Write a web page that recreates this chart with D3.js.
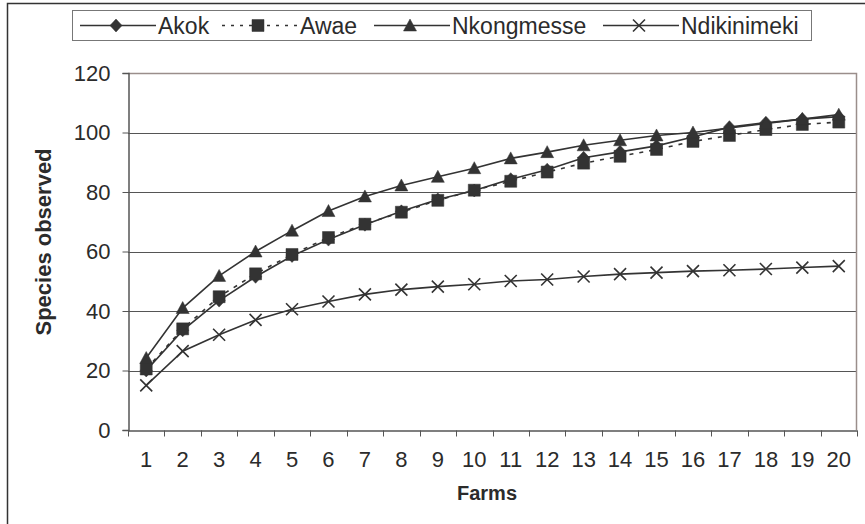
<!DOCTYPE html>
<meta charset="utf-8">
<style>
body{
  margin: 0;
  background: #fff;
  font-family: "Liberation Sans", Arial, sans-serif;
}
svg text{ fill: #2b2b2b; }
</style>
<body>
<div id='chart'></div>
<script src="https://cdn.jsdelivr.net/npm/d3@7"></script>
<script>

var farms = d3.range(1, 21)
var akok = [20, 33.5, 43.5, 51.5, 58.5, 64, 69, 73.5, 77.5, 80.5, 84.3, 87.5, 91.5, 93.5, 95.5, 98.5, 101.8, 103.3, 104.5, 105.3]
var awae = [20.5, 34, 44.8, 52.5, 59, 64.7, 69.2, 73.2, 77.2, 80.6, 83.6, 86.7, 89.7, 92, 94.3, 97, 99, 101, 102.7, 103.5]
var nkongmesse = [24.2, 41, 51.8, 60, 67, 73.6, 78.5, 82.2, 85.1, 88, 91.3, 93.4, 95.7, 97.4, 99, 100, 101.5, 103, 104.5, 106]
var ndikinimeki = [15, 26.5, 32, 37, 40.6, 43.2, 45.6, 47.2, 48.2, 49, 50.1, 50.6, 51.6, 52.4, 52.9, 53.4, 53.7, 54.1, 54.6, 55.1]
var yTicks = [0, 20, 40, 60, 80, 100, 120]

var series = [
  {name: 'Akok', values: akok, symbol: 'diamond', dash: null},
  {name: 'Awae', values: awae, symbol: 'square', dash: '4,6'},
  {name: 'Nkongmesse', values: nkongmesse, symbol: 'triangle', dash: null},
  {name: 'Ndikinimeki', values: ndikinimeki, symbol: 'cross', dash: null}
]

var width = 865,
    height = 524,
    ink = '#333',
    font = '"Liberation Sans", Arial, sans-serif'

var svg = d3.select('#chart')
  .append('svg')
    .attr('width', width)
    .attr('height', height)

// outer chart frame (runs off the right and bottom edges)
svg.append('path')
    .attr('d', 'M7.5,' + (height + 2) + 'V3.5H' + (width + 2))
    .attr('fill', 'none')
    .attr('stroke', ink)
    .attr('stroke-width', 1.5)

var x = d3.scaleBand().domain(farms).range([128, 857])
var y = d3.scaleLinear().domain([0, 120]).range([430, 73])

// grid
svg.append('g').selectAll('line')
    .data(yTicks.filter(function(d){ return d > 0 && d < 120 }))
  .enter().append('line')
    .attr('x1', 128).attr('x2', 857)
    .attr('y1', function(d){ return Math.round(y(d)) + 0.5 })
    .attr('y2', function(d){ return Math.round(y(d)) + 0.5 })
    .attr('stroke', '#555')
    .attr('stroke-width', 1)

// plot area border top/right
svg.append('path')
    .attr('d', 'M128,73.5H856.5V430')
    .attr('fill', 'none')
    .attr('stroke', '#9a8e8b')
    .attr('stroke-width', 1.5)

// y axis
var yAxis = svg.append('g')
    .attr('transform', 'translate(128.5,0)')
    .call(d3.axisLeft(y).tickValues(yTicks).tickSize(6).tickPadding(12))
yAxis.select('.domain').attr('stroke', '#555').attr('stroke-width', 1.5)
yAxis.selectAll('.tick line').attr('stroke', '#555')
yAxis.selectAll('text')
    .style('font-size', '22px')
    .style('font-family', font)
    .attr('fill', '#2b2b2b')

// x axis, ticks on the category boundaries
var xAxis = svg.append('g')
    .attr('transform', 'translate(0,430.5)')
    .call(d3.axisBottom(x).tickSize(0).tickPadding(21))
xAxis.select('.domain').attr('stroke', '#555').attr('stroke-width', 1.5)
xAxis.selectAll('text')
    .style('font-size', '22px')
    .style('font-family', font)
    .attr('fill', '#2b2b2b')
xAxis.selectAll('.bound')
    .data(d3.range(0, 21))
  .enter().append('line')
    .attr('x1', function(i){ return Math.round(128 + i * x.step()) + 0.5 })
    .attr('x2', function(i){ return Math.round(128 + i * x.step()) + 0.5 })
    .attr('y1', 0).attr('y2', 6)
    .attr('stroke', '#555')

svg.append('text')
    .attr('x', 487).attr('y', 500)
    .attr('text-anchor', 'middle')
    .style('font-size', '20px')
    .style('font-weight', 'bold')
    .text('Farms')

svg.append('text')
    .attr('transform', 'translate(51,242) rotate(-90)')
    .attr('text-anchor', 'middle')
    .style('font-size', '22px')
    .style('font-weight', 'bold')
    .text('Species observed')

function symbolPath(s){
  if (s === 'cross') return 'M-6,-6L6,6M-6,6L6,-6'
  if (s === 'diamond') return 'M0,-6.5L6,0L0,6.5L-6,0Z'
  if (s === 'square') return 'M-6,-6H6V6H-6Z'
  return 'M0,-6.5L6.5,5.5H-6.5Z'
}

function drawMarker(g, s, cx, cy){
  g.append('path')
      .attr('transform', 'translate(' + cx + ',' + cy + ')')
      .attr('d', symbolPath(s))
      .attr('fill', s === 'cross' ? 'none' : ink)
      .attr('stroke', ink)
      .attr('stroke-width', s === 'cross' ? 1.6 : 0.5)
}

var line = d3.line()
    .x(function(d, i){ return x(farms[i]) + x.bandwidth() / 2 })
    .y(function(d){ return y(d) })

series.forEach(function(s){
  var g = svg.append('g')
  g.append('path')
      .attr('d', line(s.values))
      .attr('fill', 'none')
      .attr('stroke', ink)
      .attr('stroke-width', 1.6)
      .attr('stroke-dasharray', s.dash)
  s.values.forEach(function(v, i){
    drawMarker(g, s.symbol, x(farms[i]) + x.bandwidth() / 2, y(v))
  })
})

// legend
var legend = svg.append('g')
legend.append('rect')
    .attr('x', 72.5).attr('y', 10.5)
    .attr('width', 739).attr('height', 30)
    .attr('fill', '#fff')
    .attr('stroke', '#777')
var legendX = [80, 222, 374, 603]
series.forEach(function(s, i){
  var lx = legendX[i]
  legend.append('line')
      .attr('x1', lx).attr('x2', lx + 76)
      .attr('y1', 25.5).attr('y2', 25.5)
      .attr('stroke', ink)
      .attr('stroke-width', 1.6)
      .attr('stroke-dasharray', s.dash ? '3,6' : null)
  drawMarker(legend, s.symbol, lx + 36, 25.5)
  legend.append('text')
      .attr('x', lx + 78).attr('y', 33.5)
      .style('font-size', '23px')
      .text(s.name)
})

</script>
